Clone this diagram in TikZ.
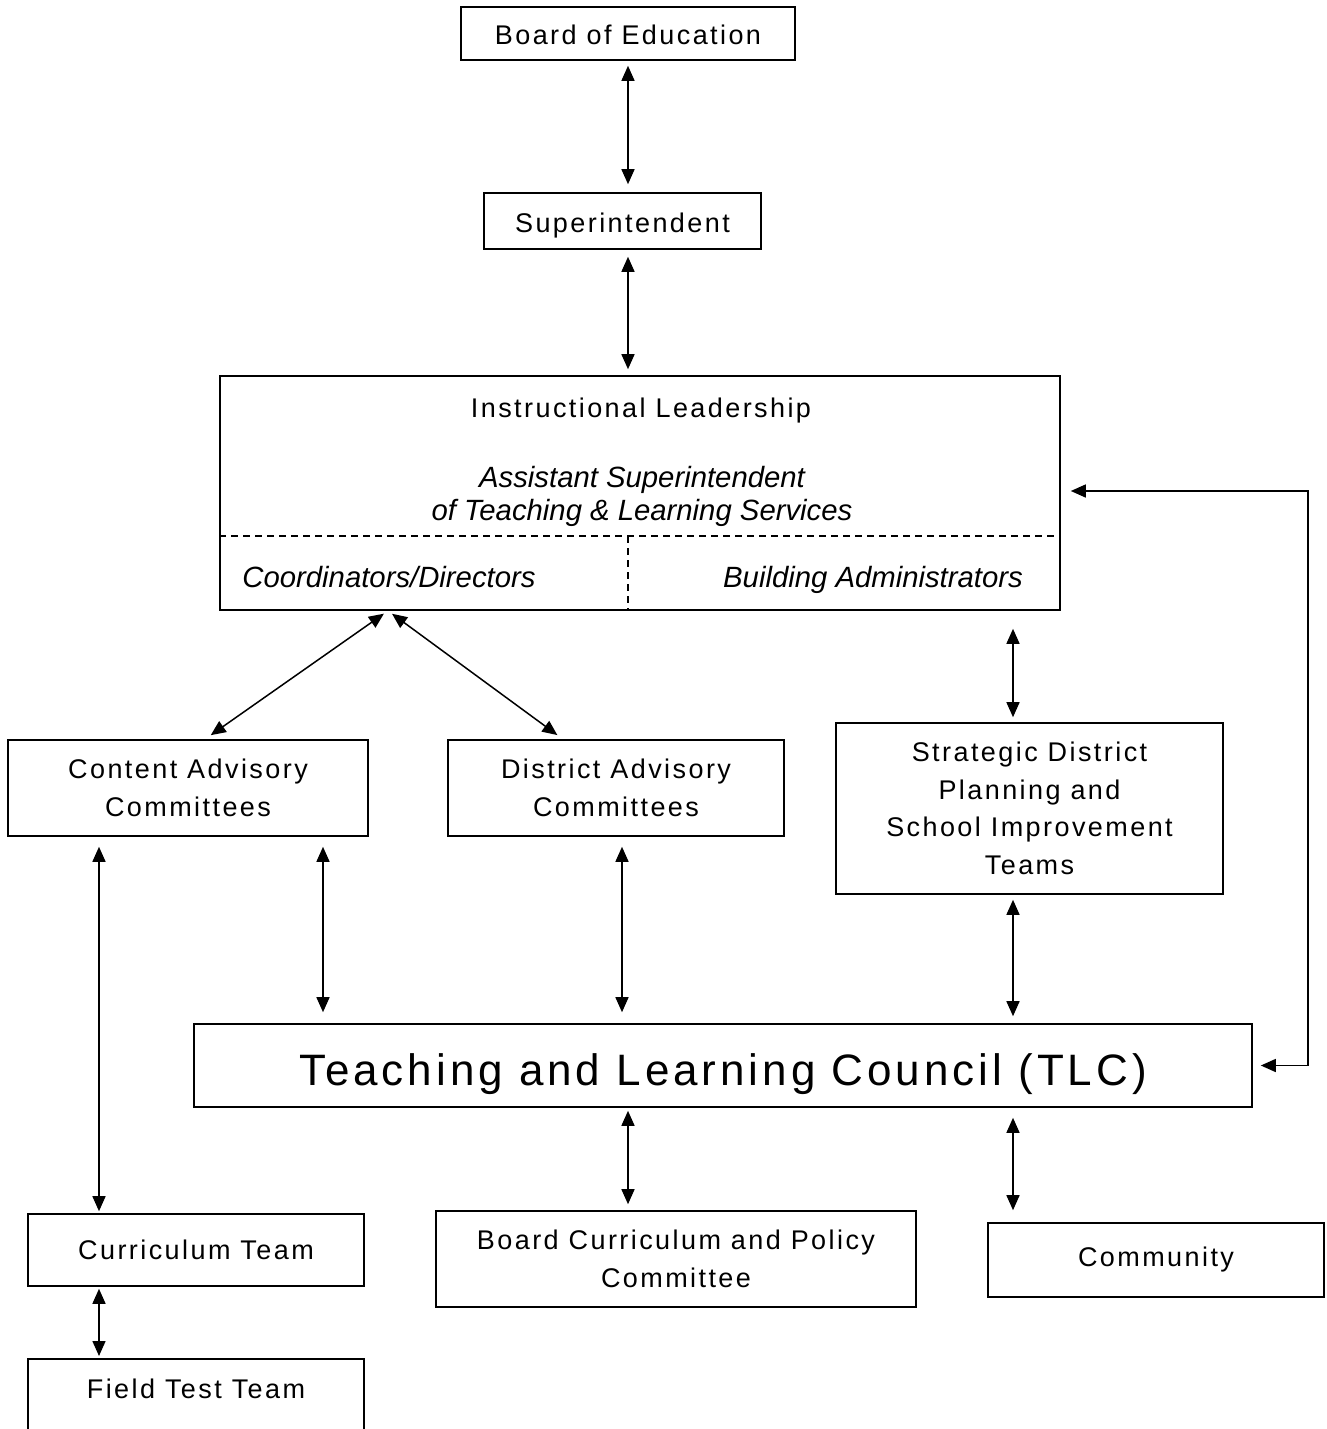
\documentclass[tikz,border=0pt]{standalone}
\usepackage{fontspec}
\setmainfont{Liberation Sans}[LetterSpace=9]
\newfontfamily\itf{Liberation Sans}
\usetikzlibrary{arrows.meta}
\begin{document}
\begin{tikzpicture}[x=1pt,y=-1pt,
  box/.style={draw, line width=1.6pt, inner sep=0pt, align=center, font=\fontsize{27}{37.5}\selectfont},
  lbl/.style={inner sep=0pt, align=center, font=\fontsize{27}{30}\selectfont},
  itl/.style={inner sep=0pt, align=center, font=\itf\itshape\fontsize{29.3}{33}\selectfont},
  link/.style={{Triangle[length=15pt,width=13pt]}-{Triangle[length=15pt,width=13pt]}, line width=1.5pt},
  sep/.style={line width=1.2pt, dash pattern=on 7pt off 5pt}
]
\useasboundingbox (0,0) rectangle (1327,1429);
\clip (0,0) rectangle (1327,1429);

% column coordinates
\coordinate (x99) at (99,0);
\coordinate (x323) at (323,0);
\coordinate (x388) at (388,0);
\coordinate (x622) at (622,0);
\coordinate (x1013) at (1013,0);
\coordinate (x1308) at (1308,0);
\coordinate (ly) at (0,491);
\coordinate (ilsep) at (628,536);

% nodes
\node[box, minimum width=334, minimum height=53, text height=23pt, text depth=0pt] (boe) at (628,33.5) {Board of Education};
\node[box, minimum width=277, minimum height=56, text height=22pt, text depth=0pt] (sup) at (622.5,221) {Superintendent};
\node[box, minimum width=840, minimum height=234] (il) at (640,493) {};
\node[lbl, anchor=base] (ilt) at (641,417) {Instructional Leadership};
\node[itl] (ast) at (642,496) {Assistant Superintendent\\of Teaching \& Learning Services};
\node[itl, anchor=base] (cd) at (389,587) {Coordinators/Directors};
\node[itl, anchor=base] (ba) at (873,587) {Building Administrators};
\draw[sep] (il.west |- ilsep) -- (il.east |- ilsep);
\draw[sep] (ilsep) -- (ilsep |- il.south);

\node[box, minimum width=360, minimum height=96] (ca) at (188,788) {Content Advisory\\Committees};
\node[box, minimum width=336, minimum height=96] (da) at (616,788) {District Advisory\\Committees};
\node[box, minimum width=387, minimum height=171] (sd) at (1029.5,808.5) {Strategic District\\Planning and\\School Improvement\\Teams};
\node[box, minimum width=1058, minimum height=83, text height=42pt, text depth=3pt, font=\fontsize{44}{50}\selectfont] (tlc) at (723,1065.5) {Teaching and Learning Council (TLC)};
\node[box, minimum width=336, minimum height=72] (ct) at (196,1250) {Curriculum Team};
\node[box, minimum width=480, minimum height=96] (bcp) at (676,1259) {Board Curriculum and Policy\\Committee};
\node[box, minimum width=336, minimum height=74] (com) at (1156,1260) {Community};
\node[box, minimum width=336, anchor=north, text height=40pt, text depth=80pt] (ft) at (196,1358) {Field Test Team};

% connectors
\draw[link, shorten <=5pt, shorten >=8pt] (boe.south) -- (boe.south |- sup.north);
\draw[link, shorten <=7pt, shorten >=6pt] (sup.south -| boe.south) -- (boe.south |- il.north);
\draw[link, shorten <=5pt, shorten >=7pt] (il.south -| x388) -- ([xshift=17pt]ca.north);
\draw[link, shorten <=5pt, shorten >=7pt] (il.south -| x388) -- ([xshift=-53pt]da.north);
\draw[link, shorten <=18pt, shorten >=5pt] (il.south -| x1013) -- (sd.north -| x1013);
\draw[link, shorten <=5pt, shorten >=7pt] (sd.south -| x1013) -- (tlc.north -| x1013);
\draw[link, shorten <=10pt, shorten >=11pt] (ca.south -| x323) -- (tlc.north -| x323);
\draw[link, shorten <=10pt, shorten >=11pt] (da.south -| x622) -- (tlc.north -| x622);
\draw[link, shorten <=10pt, shorten >=2pt] (ca.south -| x99) -- (ct.north -| x99);
\draw[link, shorten <=3pt, shorten >=6pt] (tlc.south -| boe.south) -- (bcp.north -| boe.south);
\draw[link, shorten <=10pt, shorten >=12pt] (tlc.south -| x1013) -- (com.north -| x1013);
\draw[link, shorten <=2pt, shorten >=2pt] (ct.south -| x99) -- (ft.north -| x99);
\draw[link, shorten <=8pt, shorten >=10pt] (tlc.east) -- (tlc.east -| x1308) -- (x1308 |- ly) -- (il.east |- ly);
\end{tikzpicture}
\end{document}
